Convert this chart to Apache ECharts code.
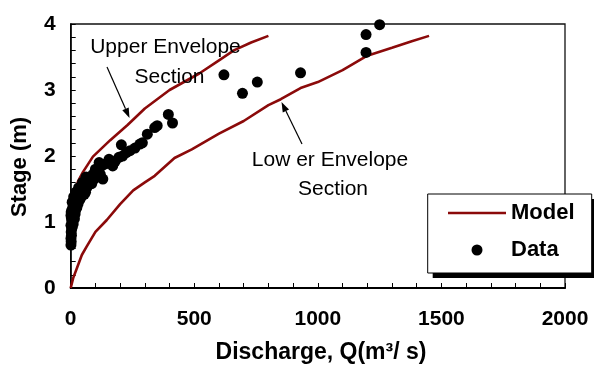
<!DOCTYPE html>
<html>
<head>
<meta charset="utf-8">
<script src="https://cdn.jsdelivr.net/npm/echarts@6/dist/echarts.min.js"></script>
<style>html,body{margin:0;padding:0;background:#fff}#c{width:594px;height:365px}</style>
</head>
<body>
<div id="c"></div>
<script>
var xTicks = [0, 500, 1000, 1500, 2000];
var yTicks = [0, 1, 2, 3, 4];
var upperModel = [[0,0.9],[8,1.25],[17,1.46],[30,1.62],[50,1.76],[90,1.99],[160,2.24],[230,2.47],[300,2.72],[400,3.0],[520,3.25],[600,3.45],[660,3.6],[730,3.72],[800,3.82]];
var lowerModel = [[0,0],[10,0.15],[25,0.3],[45,0.5],[65,0.63],[100,0.85],[146,1.03],[200,1.27],[253,1.48],[300,1.6],[340,1.7],[420,1.97],[490,2.1],[600,2.34],[700,2.53],[800,2.77],[850,2.86],[930,3.03],[1000,3.12],[1100,3.3],[1200,3.52],[1300,3.64],[1380,3.74],[1450,3.82]];
var observed = [
 [1,0.65],[2,0.7],[1,0.75],[3,0.8],[2,0.85],[4,0.9],[1,0.95],[5,1.0],[3,1.05],[1,1.1],[4,1.12],[7,1.08],[8,1.0],[10,0.97],[6,0.92],[2,1.15],
 [10,1.1],[12,1.15],[15,1.2],[8,1.2],[5,1.18],[10,1.25],[14,1.3],[18,1.28],[20,1.35],[25,1.3],[22,1.4],[28,1.38],[30,1.45],[35,1.42],
 [40,1.5],[45,1.47],[50,1.55],[55,1.5],[60,1.58],[65,1.52],[70,1.62],[75,1.6],[80,1.68],[85,1.58],[90,1.72],[95,1.65],[100,1.7],
 [110,1.75],[120,1.72],[130,1.65],[100,1.8],[115,1.9],[125,1.85],[140,1.88],[155,1.95],[170,1.85],[180,1.92],[195,1.98],[210,2.0],
 [205,2.17],[225,2.05],[240,2.08],[260,2.12],[280,2.18],[290,2.2],[310,2.33],[340,2.43],[350,2.46],[395,2.63],[412,2.5],
 [620,3.23],[695,2.95],[755,3.12],[930,3.26],[1195,3.57],[1195,3.84],[1250,3.99],
 [15,1.05],[18,1.12],[20,1.18],[25,1.22],[30,1.28],[35,1.33],[40,1.36],[45,1.4],[55,1.42],[60,1.45],[6,1.3],[12,1.38],[20,1.45],[32,1.52],[48,1.6],[62,1.68]
];

var FONT = 'Liberation Sans, Arial, sans-serif';
var RED = '#8b0a0a';
var chart = echarts.init(document.getElementById('c'), null, {renderer: 'canvas'});
function lab(list){ return function(v){ for (var i=0;i<list.length;i++){ if (Math.abs(v-list[i])<1e-6) return String(list[i]); } return ''; }; }
chart.setOption({
  animation: false,
  backgroundColor: '#fff',
  grid: {left: 70.7, right: 29, top: 24, bottom: 77, show: true, borderColor: '#111', borderWidth: 1.3, backgroundColor: 'transparent'},
  xAxis: {type: 'value', min: 0, max: 2000, interval: 100,
    axisLine: {lineStyle: {color: '#000', width: 2}},
    axisTick: {inside: true, length: 5, lineStyle: {color: '#000', width: 1}},
    axisLabel: {formatter: lab(xTicks), margin: 21, color: '#000', fontSize: 21, fontWeight: 'bold', fontFamily: FONT},
    splitLine: {show: false}},
  yAxis: {type: 'value', min: 0, max: 4, interval: 0.2,
    axisLine: {lineStyle: {color: '#000', width: 1.5}},
    axisTick: {inside: true, length: 5, lineStyle: {color: '#000', width: 1}},
    axisLabel: {formatter: lab(yTicks), margin: 15, color: '#000', fontSize: 21, fontWeight: 'bold', fontFamily: FONT},
    splitLine: {show: false}},
  legend: {data: [{name: 'Model', icon: 'path://M0,0H58V2.6H0Z'}, {name: 'Data', icon: 'circle'}], orient: 'vertical', left: 448, top: 202, padding: 0, itemGap: 15,
    itemWidth: 58, itemHeight: 11, z: 6,
    textStyle: {color: '#000', fontSize: 22, fontWeight: 'bold', fontFamily: FONT}},
  series: [
    {name: 'Model', type: 'line', data: upperModel, symbol: 'none', lineStyle: {color: RED, width: 2.6}, itemStyle: {color: RED}, z: 2},
    {name: 'Model', type: 'line', data: lowerModel, symbol: 'none', lineStyle: {color: RED, width: 2.6}, itemStyle: {color: RED}, z: 2},
    {name: 'Data', type: 'scatter', data: observed, symbol: 'circle', symbolSize: 11, itemStyle: {color: '#000', opacity: 1}, z: 3}
  ],
  graphic: [
    {type: 'rect', z: 4, shape: {x: 432.7, y: 199, width: 164, height: 79}, style: {fill: '#000'}},
    {type: 'rect', z: 5, shape: {x: 427.7, y: 194, width: 164, height: 79}, style: {fill: '#fff', stroke: '#000', lineWidth: 1}},
    {type: 'text', z: 7, x: 165.5, y: 47, style: {text: 'Upper Envelope', font: '21px ' + FONT, fill: '#000', textAlign: 'center', textVerticalAlign: 'middle', align: 'center', verticalAlign: 'middle'}},
    {type: 'text', z: 7, x: 169.5, y: 77.5, style: {text: 'Section', font: '21px ' + FONT, fill: '#000', textAlign: 'center', textVerticalAlign: 'middle', align: 'center', verticalAlign: 'middle'}},
    {type: 'text', z: 7, x: 330, y: 160, style: {text: 'Low er Envelope', font: '21px ' + FONT, fill: '#000', textAlign: 'center', textVerticalAlign: 'middle', align: 'center', verticalAlign: 'middle'}},
    {type: 'text', z: 7, x: 333, y: 189, style: {text: 'Section', font: '21px ' + FONT, fill: '#000', textAlign: 'center', textVerticalAlign: 'middle', align: 'center', verticalAlign: 'middle'}},
    {type: 'line', z: 7, shape: {x1: 107, y1: 67, x2: 125.5, y2: 108.8}, style: {stroke: '#000', lineWidth: 1.2}},
    {type: 'polygon', z: 7, shape: {points: [[129.5,118],[122.3,110.2],[128.7,107.4]]}, style: {fill: '#000'}},
    {type: 'line', z: 7, shape: {x1: 302, y1: 144, x2: 285.9, y2: 111}, style: {stroke: '#000', lineWidth: 1.2}},
    {type: 'polygon', z: 7, shape: {points: [[281.5,102],[289.05,109.46],[282.75,112.54]]}, style: {fill: '#000'}},
    {type: 'text', z: 7, x: 20, y: 167, rotation: Math.PI / 2, style: {text: 'Stage (m)', font: 'bold 22px ' + FONT, fill: '#000', textAlign: 'center', textVerticalAlign: 'middle', align: 'center', verticalAlign: 'middle'}},
    {type: 'text', z: 7, x: 321, y: 353, style: {text: 'Discharge, Q(m\u00b3/ s)', font: 'bold 23px ' + FONT, fill: '#000', textAlign: 'center', textVerticalAlign: 'middle', align: 'center', verticalAlign: 'middle'}}
  ]
});
</script>
</body>
</html>
